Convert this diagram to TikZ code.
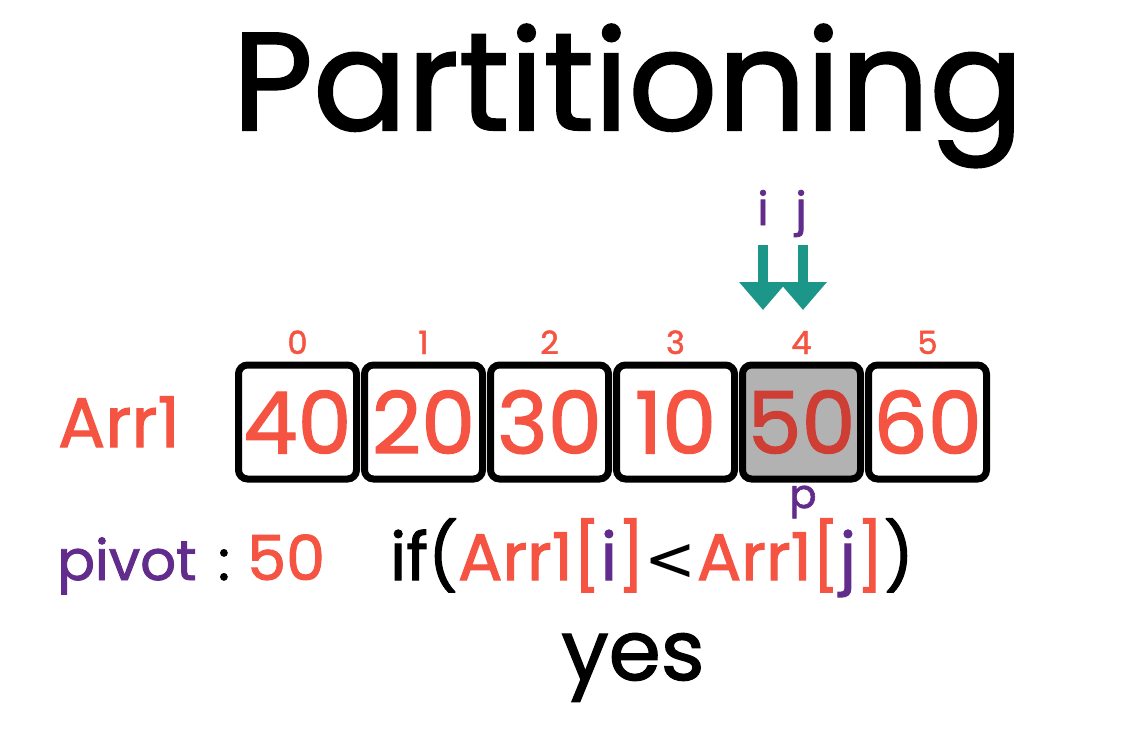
\documentclass[tikz,border=0pt]{standalone}
\usepackage{fontspec}
\setmainfont{Poppins}[FakeBold=1.5]
\newfontfamily\ltfont{DejaVu Sans}
\usetikzlibrary{arrows.meta,positioning}

\definecolor{arrred}{RGB}{246,84,66}
\definecolor{pivred}{RGB}{206,62,52}
\definecolor{ptrpurple}{RGB}{98,44,140}
\definecolor{ptrteal}{RGB}{28,150,136}
\definecolor{pivgray}{RGB}{178,178,178}

\tikzset{
  cellbox/.style={draw=black, line width=7pt, rounded corners=9pt, minimum width=118pt,
    minimum height=114pt, inner sep=0pt, text=arrred, font=\fontsize{86}{86}\selectfont},
  plaincell/.style={fill=white},
  pivcell/.style={fill=pivgray, text=pivred},
  idxlbl/.style={text=arrred, font=\fontsize{32}{32}\selectfont, inner sep=0pt, anchor=base},
  ptrlbl/.style={text=ptrpurple, font=\fontsize{46}{46}\selectfont, inner sep=0pt, anchor=base},
  ptr/.style={ptrteal, line width=10pt, -{Triangle[width=46pt,length=28pt]}},
}

\begin{document}
\begin{tikzpicture}[x=1pt, y=-1pt]

  \fill[white] (0,0) rectangle (1142,752);

  %% ==== title ====
  \node[font=\fontsize{139}{139}\selectfont, inner sep=0pt, anchor=base] (title) at (628,130) {Partitioning};

  %% ==== array cells + indices ====
  \foreach \v/\sty [count=\k from 0] in {40/plaincell,20/plaincell,30/plaincell,10/plaincell,50/pivcell,60/plaincell} {
    \node[cellbox, \sty] (cell\k) at (297.5+126*\k, 422) {\v};
    \node[idxlbl] (idx\k) at (297.5+126*\k, 354) {\k};
  }
  \node[text=arrred, font=\fontsize{70}{70}\selectfont, inner sep=0pt, anchor=base] (arrlbl) at (119,447) {Arr1};

  %% ==== pointers i, j, p ====
  \node[ptrlbl] (ilbl) at (763,225) {i};
  \node[ptrlbl] (jlbl) at (801,225) {j};
  \coordinate (itip) at (763,310);
  \coordinate (jtip) at (803,310);
  \draw[ptr] ([yshift=-20pt]ilbl.base) -- (itip);
  \draw[ptr] ([xshift=2pt,yshift=-20pt]jlbl.base) -- (jtip);
  \node[ptrlbl, font=\fontsize{40}{40}\selectfont] (plbl) at (803,508) {p};

  %% ==== pivot + condition ====
  \node[text=ptrpurple, font=\fontsize{56}{56}\selectfont, inner sep=0pt, anchor=base west] (pivlbl) at (57,580) {pivot};
  \node[font=\fontsize{56}{56}\selectfont, inner sep=0pt, anchor=base] (colon) at (224,580) {:};
  \node[text=arrred, font=\fontsize{62}{62}\selectfont, inner sep=0pt, anchor=base west] (pivval) at (247,580) {50};

  \node[font=\fontsize{66}{66}\selectfont, inner sep=0pt, anchor=base] (cond) at (652,580)
    {if(\textcolor{arrred}{Arr1[}\textcolor{ptrpurple}{i}\textcolor{arrred}{]}{\ltfont\fontsize{62}{62}\selectfont<}\textcolor{arrred}{Arr1[}\textcolor{ptrpurple}{j}\textcolor{arrred}{]})};
  \node[font=\fontsize{84}{84}\selectfont, inner sep=0pt, anchor=base] (answer) at (633,680) {yes};

  \pgfresetboundingbox
  \path[use as bounding box] (0,0) rectangle (1142,752);
\end{tikzpicture}
\end{document}
